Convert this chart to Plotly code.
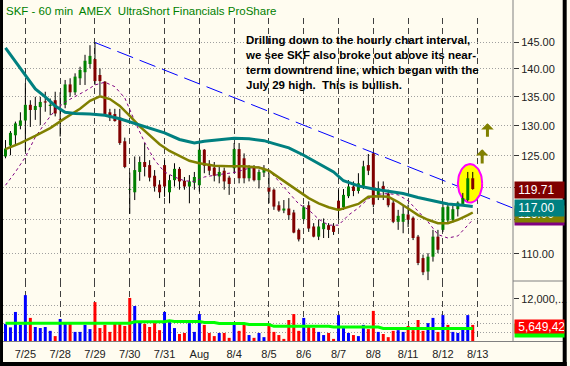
import math
import plotly.graph_objects as go

# ---------------- data ----------------
DAY_IDX = [4, 11, 18, 25, 32, 39, 46, 53, 60, 67, 74, 81, 88, 95]
DAY_LBL = ["7/25", "7/28", "7/29", "7/30", "7/31", "Aug", "8/4", "8/5",
           "8/6", "8/7", "8/8", "8/11", "8/12", "8/13"]

OPEN = [124.9, 126.7, 128.4, 130.0, 130.9, 133.6, 132.7, 133.2, 134.2, 133.4,
        134.4, 131.1, 133.6, 137.2, 135.8, 138.3, 139.4, 140.9, 141.8, 138.9,
        137.7, 132.3, 132.0, 131.4, 127.4, 119.6, 119.2, 122.4, 124.0, 123.5,
        121.8, 120.4, 123.5, 119.2, 121.1, 122.9, 121.0, 120.1, 120.7, 120.3,
        126.0, 123.7, 123.1, 121.7, 122.6, 121.5, 123.0, 126.1, 124.6, 121.4,
        123.1, 121.1, 122.3, 119.9, 119.6, 117.2, 116.4, 116.7, 116.1, 113.5,
        115.1, 117.2, 114.0, 112.5, 113.6, 114.2, 114.1, 117.9, 116.9, 118.6,
        120.1, 119.4, 120.2, 123.5, 125.4, 118.8, 120.2, 119.0, 117.6, 114.7,
        114.7, 115.8, 115.3, 112.5, 109.4, 107.5, 109.6, 112.5, 113.5, 114.9,
        115.0, 116.6, 117.4, 118.0, 121.4]
HIGH = [127.6, 129.1, 130.7, 132.3, 137.4, 134.4, 135.0, 135.0, 135.9, 134.7,
        135.9, 135.8, 138.0, 138.3, 139.2, 140.4, 142.6, 144.4, 144.9, 140.1,
        137.8, 132.9, 132.9, 132.9, 128.0, 122.3, 124.9, 124.9, 127.1, 124.3,
        122.7, 121.1, 124.3, 121.9, 123.8, 123.2, 121.6, 121.9, 122.4, 127.3,
        126.1, 124.3, 124.0, 123.5, 123.1, 121.8, 127.1, 127.1, 125.4, 123.5,
        123.5, 122.8, 123.5, 122.2, 119.8, 117.8, 118.0, 118.3, 116.5, 113.7,
        117.2, 117.8, 114.5, 115.0, 115.2, 114.5, 114.5, 119.6, 119.7, 121.1,
        120.9, 122.2, 124.2, 125.3, 125.5, 120.9, 120.9, 119.6, 118.0, 116.5,
        117.1, 117.3, 115.5, 112.75, 109.9, 110.1, 113.5, 113.5, 117.5, 117.5,
        117.1, 117.8, 119.1, 122.4, 122.4]
LOW = [124.6, 125.1, 126.9, 129.4, 125.7, 129.8, 131.0, 130.1, 132.4, 131.8,
       131.6, 128.2, 133.0, 135.0, 135.3, 137.1, 137.1, 140.1, 137.1, 135.3,
       131.8, 130.8, 130.7, 126.8, 123.0, 115.9, 118.0, 121.0, 121.7, 120.9,
       119.3, 118.3, 118.5, 117.5, 120.1, 119.6, 119.6, 117.5, 119.6, 119.3,
       122.2, 121.9, 120.9, 120.6, 119.6, 118.8, 122.2, 120.6, 120.6, 120.9,
       120.9, 119.8, 121.6, 117.5, 116.5, 116.2, 116.0, 115.0, 113.0, 111.8,
       114.9, 113.2, 112.4, 112.0, 112.3, 112.3, 112.75, 115.2, 116.5, 118.3,
       118.6, 119.0, 119.7, 121.9, 116.9, 118.0, 118.0, 116.9, 114.5, 113.5,
       113.0, 113.9, 112.0, 108.4, 107.0, 106.3, 108.9, 110.1, 113.2, 114.6,
       114.6, 115.5, 117.4, 117.8, 119.6]
CLOSE = [126.2, 128.8, 130.4, 130.9, 133.6, 132.7, 133.4, 134.1, 134.0, 133.6,
         132.1, 131.0, 137.2, 135.8, 138.6, 139.8, 141.5, 142.4, 137.8, 137.8,
         132.0, 131.4, 130.8, 127.1, 123.2, 119.7, 122.7, 124.0, 123.2, 121.5,
         120.1, 119.2, 120.1, 121.1, 122.9, 120.9, 120.1, 120.9, 121.6, 126.0,
         123.4, 122.6, 121.8, 122.4, 120.9, 120.5, 126.1, 121.4, 121.4, 123.1,
         121.1, 122.4, 122.8, 119.3, 117.0, 116.4, 116.7, 115.7, 113.1, 112.1,
         116.9, 113.7, 112.5, 114.0, 114.5, 113.5, 113.2, 116.6, 118.8, 120.1,
         119.4, 120.6, 123.3, 122.6, 117.3, 119.8, 119.6, 117.2, 114.7, 115.6,
         115.9, 115.0, 112.3, 108.7, 107.4, 109.6, 112.5, 110.6, 116.9, 117.0,
         116.6, 117.6, 118.3, 121.4, 119.71]

# hourly volume, millions of shares, and bar colour (U = blue, D = red)
VOLUME_M = [4.9, 3.9, 8.3, 4.6, 13.1, 6.6, 4.0, 3.7, 4.0, 2.9,
            1.4, 6.3, 5.3, 4.9, 2.6, 2.6, 4.6, 3.4, 11.1, 3.7,
            4.6, 2.6, 5.4, 5.4, 4.3, 12.3, 10.0, 5.4, 4.9, 4.0,
            5.1, 3.1, 8.3, 5.4, 3.7, 2.0, 2.3, 5.1, 2.6, 7.7,
            4.6, 2.3, 1.4, 2.3, 2.3, 0.9, 5.1, 2.9, 4.9, 1.7,
            0.9, 2.3, 1.1, 4.9, 2.6, 1.7, 0.6, 6.0, 7.7, 2.9,
            6.6, 4.3, 3.7, 2.6, 1.7, 2.3, 0.6, 7.4, 3.7, 2.3,
            1.7, 1.4, 4.6, 3.4, 8.6, 2.6, 2.0, 1.1, 2.9, 3.1,
            2.6, 4.3, 3.1, 6.0, 2.9, 5.1, 6.6, 2.6, 7.4, 4.6,
            2.6, 2.3, 4.0, 7.4, 4.6]
VOL_DIR = ("UUUUUDUUUU" "DUUDUUUUDD" "DDDDDDUUDD" "DDUUUDDUUU" "DDDUDDUDDU"
           "DUUDDDDDDD" "UDDUUDDUUU" "DUUDDUDDDU" "UDDDDUUDUD" "UUUUD")

# moving averages (bar index, price)
TEAL_IDX = [0, 2, 4, 6, 8, 10, 12, 14, 17, 20, 23, 26, 29, 32, 35, 38, 40, 43,
            46, 49, 52, 54, 57, 60, 63, 66, 68, 71, 74, 77, 80, 83, 86, 89, 92, 94]
TEAL_VAL = [143.9, 141.3, 138.7, 136.4, 135.0, 133.4, 132.3, 132.1, 132.0, 131.8,
            131.2, 130.4, 129.6, 128.8, 127.7, 127.1, 127.4, 127.6, 127.9, 127.8,
            127.5, 127.0, 126.3, 125.1, 123.8, 122.4, 121.0, 120.2, 119.7, 119.4,
            119.0, 118.4, 117.9, 117.4, 117.2, 117.0]
OLIVE_IDX = [0, 3, 6, 9, 12, 15, 17, 19, 21, 23, 25, 27, 29, 31, 33, 35, 37, 39,
             42, 45, 48, 51, 53, 55, 57, 59, 61, 63, 65, 67, 69, 71, 73, 75, 77,
             79, 81, 83, 85, 87, 89, 91, 93, 94]
OLIVE_VAL = [126.1, 127.1, 128.3, 129.6, 131.3, 132.9, 134.3, 135.1, 134.6, 133.4,
             131.7, 129.9, 128.4, 126.9, 125.8, 125.0, 124.2, 123.8, 123.4, 123.3,
             123.3, 123.1, 122.6, 121.5, 120.4, 119.4, 118.3, 117.5, 116.9, 116.5,
             117.0, 117.4, 118.5, 118.6, 118.5, 117.7, 116.7, 115.7, 115.0, 114.5,
             114.5, 115.0, 115.7, 116.1]
PURPLE_IDX = [0, 2, 4, 6, 8, 10, 12, 14, 16, 18, 20, 22, 24, 26, 28, 30, 32, 34,
              36, 38, 40, 43, 46, 49, 51, 53, 55, 57, 59, 61, 63, 65, 67, 69, 71,
              73, 75, 77, 79, 81, 83, 85, 87, 89, 91, 93, 94]
PURPLE_VAL = [120.3, 122.4, 124.8, 128.1, 130.5, 132.7, 134.1, 135.0, 136.0, 137.1,
              137.6, 136.8, 134.8, 130.8, 127.2, 124.3, 122.4, 121.6, 121.0, 120.9,
              121.6, 122.0, 122.3, 123.0, 123.2, 122.7, 120.9, 119.1, 117.4, 116.5,
              115.1, 114.2, 114.2, 115.7, 116.8, 118.2, 118.9, 119.0, 118.8, 117.9,
              116.3, 114.7, 112.8, 112.3, 112.6, 114.2, 115.0]
VMA_IDX = [0, 25, 26, 32, 33, 34, 39, 40, 42, 43, 48, 49, 53, 54, 65, 66, 75, 76, 94]
VMA_VAL = [5.1, 5.1, 5.5, 5.5, 5.8, 5.6, 5.6, 5.3, 5.3, 5.0, 5.0, 4.7, 4.7, 4.2,
           4.2, 4.0, 4.0, 3.6, 3.6]

# downtrend line from the July 29 high
TREND_IDX = [18, 102]
TREND_VAL = [144.9, 116.8]

PRICE_TICKS = [110, 115, 120, 125, 130, 135, 140, 145]
PRICE_TICKTEXT = ["110.00", "", "", "125.00", "130.00", "135.00", "140.00", "145.00"]
VOL_TICKS = [12e6]
VOL_TICKTEXT = ["12,000,..."]

LAST_LABELS = [("", "#800080"), ("116.00", "#808000"), ("117.00", "#008080"), ("119.71", "#800000")]
VOL_LABEL = "5,649,428"
TITLE = "SKF - 60 min\u00a0 AMEX\u00a0 UltraShort Financials ProShare"
NOTE = ("Drilling down to the hourly chart interval,<br>"
        "we see SKF also broke out above its near-<br>"
        "term downtrend line, which began with the<br>"
        "July 29 high.\u00a0 This is bullish.")

# ---------------- geometry / style ----------------
FONT = "Liberation Sans, Arial, sans-serif"
BG = "#fffcf0"
W, H = 570, 366
ML, MR, MT, MB = 3, 54, 18, 25
PW, PH = W - ML - MR, H - MT - MB
VOL_SPLIT = (H - MB - 281) / PH
PRICE_RANGE = [106.18, 149.61]
VOL_TOP = 17.14e6
X_RANGE = [-0.5, 102.1]


def px_x(px):
    return (px - ML) / PW


def px_y(py):
    return (H - MB - py) / PH


fig = go.Figure()

# trend line
fig.add_trace(go.Scatter(x=TREND_IDX, y=TREND_VAL, mode="lines",
                         line=dict(color="#0000ff", width=1, dash="17px,7px"),
                         hoverinfo="skip"))

# highlight ellipse (around the breakout bars)
ecx, ecy, erx, ery = 93.46, 120.6, 2.44, 0.0109
ts = [k * 2 * math.pi / 72 for k in range(73)]
fig.add_trace(go.Scatter(x=[ecx + erx * math.cos(t) for t in ts],
                         y=[10 ** (math.log10(ecy) + ery * math.sin(t)) for t in ts],
                         mode="lines", fill="toself", fillcolor="#ffff00",
                         line=dict(color="#ff00ff", width=2), hoverinfo="skip"))

idx = list(range(len(CLOSE)))
wx, wy = [], []
for i in idx:
    wx += [i, i, None]
    wy += [LOW[i], HIGH[i], None]
fig.add_trace(go.Scatter(x=wx, y=wy, mode="lines", line=dict(color="#000000", width=1),
                         hoverinfo="skip"))
for up, col in ((True, "#008000"), (False, "#800000")):
    bx, by = [], []
    for i in idx:
        if (CLOSE[i] >= OPEN[i]) == up:
            bx += [i, i, None]
            by += [OPEN[i], CLOSE[i], None]
    fig.add_trace(go.Scatter(x=bx, y=by, mode="lines", line=dict(color=col, width=3),
                             hoverinfo="skip"))

fig.add_trace(go.Scatter(x=PURPLE_IDX, y=PURPLE_VAL, mode="lines",
                         line=dict(color="#800080", width=1, dash="3px,3px"), hoverinfo="skip"))
fig.add_trace(go.Scatter(x=OLIVE_IDX, y=OLIVE_VAL, mode="lines",
                         line=dict(color="#808000", width=2.5), hoverinfo="skip"))
fig.add_trace(go.Scatter(x=TEAL_IDX, y=TEAL_VAL, mode="lines",
                         line=dict(color="#008080", width=3), hoverinfo="skip"))

# volume
fig.add_trace(go.Bar(x=idx, y=[v * 1e6 for v in VOLUME_M], width=0.6,
                     marker=dict(color=["#0000ff" if d == "U" else "#ff0000" for d in VOL_DIR],
                                 line=dict(width=0)),
                     xaxis="x2", yaxis="y2", hoverinfo="skip"))
fig.add_trace(go.Scatter(x=VMA_IDX, y=[v * 1e6 for v in VMA_VAL], mode="lines",
                         line=dict(color="#00ff00", width=3), xaxis="x2", yaxis="y2",
                         hoverinfo="skip"))

tickfont = dict(family=FONT, size=11, color="#222222")
vgrid = dict(showgrid=True, gridcolor="#404040", gridwidth=1, griddash="6px,4px")
hgrid = dict(gridcolor="#a0a0a0", gridwidth=1, griddash="1px,2px")

fig.update_layout(
    width=W, height=H, margin=dict(l=ML, r=MR, t=MT, b=MB, pad=0),
    paper_bgcolor=BG, plot_bgcolor=BG, showlegend=False, barmode="overlay",
    xaxis=dict(domain=[0, 1], range=X_RANGE, anchor="y", tickmode="array", tickvals=DAY_IDX,
               showticklabels=False, ticks="", zeroline=False, showline=False, **vgrid),
    xaxis2=dict(domain=[0, 1], range=X_RANGE, anchor="y2", tickmode="array", tickvals=DAY_IDX,
                ticktext=DAY_LBL, ticks="outside", ticklen=3, tickcolor=BG, tickfont=tickfont,
                zeroline=False, showline=False, **vgrid),
    yaxis=dict(domain=[VOL_SPLIT, 1], type="log",
               range=[math.log10(PRICE_RANGE[0]), math.log10(PRICE_RANGE[1])],
               side="right", anchor="x", tickmode="array", tickvals=PRICE_TICKS,
               ticktext=PRICE_TICKTEXT, ticks="outside", ticklen=5, tickcolor="#333333",
               tickfont=tickfont, showgrid=True, zeroline=False, showline=False, **hgrid),
    yaxis2=dict(domain=[0, VOL_SPLIT], range=[0, VOL_TOP], side="right", anchor="x2",
                tickmode="array", tickvals=VOL_TICKS, ticktext=VOL_TICKTEXT, ticks="outside",
                ticklen=5, tickcolor="#333333", tickfont=tickfont, showgrid=False,
                zeroline=False, showline=False,
                minor=dict(tickmode="array", tickvals=[2.5e6, 5e6, 7.5e6, 10e6], showgrid=True,
                           ticks="", **hgrid)),
)

ann = [
    dict(text=TITLE, x=px_x(4), y=px_y(11.5), xanchor="left", yanchor="middle",
         font=dict(family=FONT, size=11.5, color="#008000")),
    dict(text="<b>" + NOTE + "</b>", x=px_x(244), y=px_y(32), xanchor="left", yanchor="top",
         align="left", font=dict(family=FONT, size=11.5, color="#000000")),
]
box_rows = [(209, 225), (206, 222), (200, 215.5), (182.5, 198.5)]
for (txt, col), (top, bot) in zip(LAST_LABELS, box_rows):
    ann.append(dict(text="\u00a0" + txt if txt else "", x=px_x(517), y=px_y((top + bot) / 2),
                    xanchor="left", yanchor="middle", width=49, height=bot - top,
                    bgcolor=col, borderpad=0, align="left",
                    font=dict(family=FONT, size=12, color="#ffffff")))
ann.append(dict(text="", x=px_x(517), y=px_y(330.5), xanchor="left", yanchor="middle",
                width=49, height=13, bgcolor="#00ff00", borderpad=0))
ann.append(dict(text="\u00a0" + VOL_LABEL, x=px_x(517), y=px_y(326.7), xanchor="left",
                yanchor="middle", width=49, height=13.3, bgcolor="#ff0000", borderpad=0,
                align="left", font=dict(family=FONT, size=12, color="#ffffff")))
for tipx, tipy, length in ((485, 149.3, 15.7), (490.3, 123.3, 15.0)):
    ann.append(dict(text="", x=px_x(tipx), y=px_y(tipy), showarrow=True, ax=0, ay=length,
                    arrowhead=1, arrowsize=0.7, arrowwidth=3, arrowcolor="#808000",
                    standoff=0, startstandoff=0))
for a in ann:
    a.setdefault("xref", "paper")
    a.setdefault("yref", "paper")
    a.setdefault("showarrow", False)
fig.update_layout(annotations=ann)

line_gray = "#808080"
shapes = [
    dict(type="line", x0=px_x(516), x1=px_x(516), y0=px_y(341), y1=px_y(0),
         line=dict(color=line_gray, width=1)),
    dict(type="line", x0=px_x(3), x1=px_x(567), y0=px_y(341.5), y1=px_y(341.5),
         line=dict(color=line_gray, width=1)),
    dict(type="line", x0=px_x(516), x1=px_x(567), y0=px_y(281), y1=px_y(281),
         line=dict(color=line_gray, width=1)),
    dict(type="rect", x0=px_x(0), x1=px_x(3), y0=px_y(366), y1=px_y(0),
         fillcolor="#000000", line=dict(width=0)),
    dict(type="rect", x0=px_x(566), x1=px_x(570), y0=px_y(366), y1=px_y(0),
         fillcolor="#000000", line=dict(width=0)),
    dict(type="rect", x0=px_x(0), x1=px_x(570), y0=px_y(366), y1=px_y(362),
         fillcolor="#000000", line=dict(width=0)),
]
for s in shapes:
    s.update(xref="paper", yref="paper", layer="above")
fig.update_layout(shapes=shapes)

fig.write_html("out.html", config={"displayModeBar": False},
               post_script="document.body.style.margin='0';document.body.style.overflow='hidden';")
